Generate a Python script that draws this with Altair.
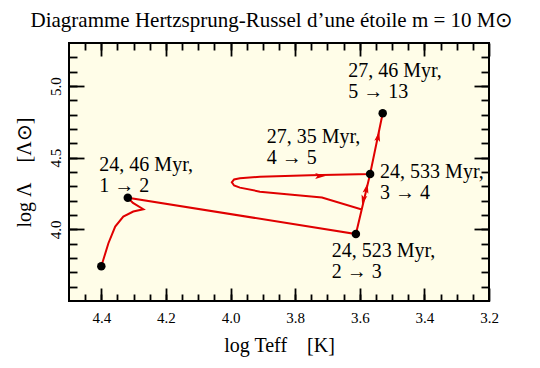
import altair as alt
import pandas as pd
import numpy as np

# ---------------- data ----------------
# evolutionary track (log Teff, log L) in drawing order
track_logT = [4.400, 4.394, 4.378, 4.357, 4.332, 4.301, 4.270, 4.302, 4.318,
              3.612, 3.568, 3.594, 3.717, 3.826, 3.909, 3.971, 3.989, 3.996,
              3.989, 3.971, 3.909, 3.754, 3.568, 3.529]
track_logL = [3.742, 3.786, 3.903, 4.019, 4.089, 4.124, 4.140, 4.184, 4.221,
              3.967, 4.386, 4.138, 4.222, 4.244, 4.263, 4.291, 4.306, 4.328,
              4.348, 4.356, 4.367, 4.377, 4.386, 4.810]

# stage points (black dots)
stage_logT = [4.400, 4.318, 3.612, 3.568, 3.529]
stage_logL = [3.742, 4.221, 3.967, 4.386, 4.810]

# annotations
label_ages = ["24, 46 Myr,", "24, 523 Myr,", "24, 533 Myr,", "27, 35 Myr,", "27, 46 Myr,"]
label_steps = ["1 → 2", "2 → 3", "3 → 4", "4 → 5", "5 → 13"]
label_logT = [4.406, 3.687, 3.537, 3.888, 3.636]
label_logL = [4.409, 3.805, 4.356, 4.604, 5.061]

# direction arrows on the track
arrow_logT = [3.579, 3.589, 3.723, 3.543]
arrow_logL = [4.286, 4.205, 4.372, 4.646]
arrow_heading = [13, 193, 90, 12]

# axes
x_domain = [3.2, 4.5]
y_domain = [3.5, 5.3]
x_major = [4.4, 4.2, 4.0, 3.8, 3.6, 3.4, 3.2]
y_major = [4.0, 4.5, 5.0]
x_minor = [round(v, 2) for v in np.arange(3.25, 4.5, 0.05)]
y_minor = [round(v, 1) for v in np.arange(3.6, 5.3, 0.1)]

# ---------------- tables ----------------
track_df = pd.DataFrame({"logT": track_logT, "logL": track_logL,
                         "seq": range(len(track_logT))})
stage_df = pd.DataFrame({"logT": stage_logT, "logL": stage_logL})
label_df = pd.DataFrame({"logT": label_logT, "logL": label_logL,
                         "text": [a + "\n" + s for a, s in zip(label_ages, label_steps)]})
arrow_df = pd.DataFrame({"logT": arrow_logT, "logL": arrow_logL,
                         "heading": arrow_heading})

# ---------------- styling ----------------
FONT = "Liberation Serif"
RED = "#E00000"
BG = "#FFFDE8"
ARROW = "M0,-1L0.55,0.9L0,0.5L-0.55,0.9Z"

xs = alt.Scale(domain=x_domain, reverse=True, nice=False, zero=False)
ys = alt.Scale(domain=y_domain, nice=False, zero=False)


def make_axis(orient, values, size, labels=False, title=None, **kw):
    return alt.Axis(orient=orient, values=values, tickSize=size, offset=-size,
                    labels=labels, title=title, domain=False, grid=False,
                    ticks=True, tickColor="black", tickWidth=1.8,
                    labelFont=FONT, labelFontSize=15, labelColor="black",
                    labelFlush=False, labelOverlap=False,
                    titleFont=FONT, titleFontSize=20, titleFontWeight="normal",
                    titleColor="black", **kw)


def X(axis):
    return alt.X("logT:Q", scale=xs, axis=axis)


def Y(axis):
    return alt.Y("logL:Q", scale=ys, axis=axis)


line = alt.Chart(track_df).mark_line(color=RED, strokeWidth=2).encode(
    x=X(make_axis("bottom", x_major, 13, labels=True,
                  title="log Teff\u00a0\u00a0\u00a0\u00a0[K]",
                  labelPadding=9, titlePadding=10, format=".1f")),
    y=Y(make_axis("left", y_major, 15, labels=True,
                  title="log Λ\u00a0\u00a0\u00a0\u00a0[Λ⊙]",
                  labelPadding=6, titlePadding=14, labelAngle=270,
                  labelAlign="center", labelBaseline="bottom", format=".1f")),
    order="seq:Q",
)

arrows = alt.Chart(arrow_df).mark_point(
    shape=ARROW, filled=True, color=RED, size=115, opacity=1
).encode(
    x=X(make_axis("top", x_major, 13)),
    y=Y(make_axis("right", y_major, 15)),
    angle=alt.Angle("heading:Q", scale=None),
)

dots = alt.Chart(stage_df).mark_circle(color="black", size=72, opacity=1).encode(
    x=X(make_axis("top", x_minor, 7)),
    y=Y(make_axis("right", y_minor, 8)),
)

labels = alt.Chart(label_df).mark_text(
    align="left", baseline="alphabetic", font=FONT, fontSize=20,
    lineBreak="\n", lineHeight=21, color="black"
).encode(
    x=X(make_axis("bottom", x_minor, 7)),
    y=Y(make_axis("left", y_minor, 8)),
    text="text:N",
)

chart = alt.layer(line, arrows, dots, labels).resolve_axis(
    x="independent", y="independent"
).properties(
    width=420, height=258,
    title=alt.TitleParams(
        text="Diagramme Hertzsprung-Russel d’une étoile m = 10 M⊙",
        font=FONT, fontSize=21, fontWeight="normal", color="black",
        anchor="middle", dx=-7, offset=11,
    ),
    padding={"left": 61, "top": 35, "right": 43, "bottom": 59},
    autosize=alt.AutoSizeParams(type="none"),
).configure(background="white").configure_view(
    fill=BG, stroke="black", strokeWidth=2
)

chart.save("out.html", embed_options={"renderer": "svg", "actions": False})
